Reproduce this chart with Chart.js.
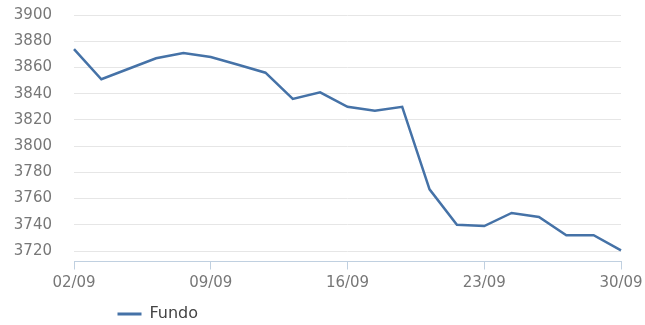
<!DOCTYPE html>
<html lang="pt">
<head>
    <meta charset="UTF-8">
    <title>Fundo</title>
    <script src="https://cdn.jsdelivr.net/npm/chart.js"></script>
    <style>
        body { margin: 0; padding: 0; background: #fff; }
        .chart-box { width: 645px; height: 325px; }
    </style>
</head>
<body>
    <div class="chart-box">
        <canvas id="lineChart"></canvas>
    </div>

    <script>
        // dias úteis de setembro
        let dias = ["02/09", "03/09", "04/09", "05/09", "06/09",
                    "09/09", "10/09", "11/09", "12/09", "13/09",
                    "16/09", "17/09", "18/09", "19/09", "20/09",
                    "23/09", "24/09", "25/09", "26/09", "27/09",
                    "30/09"];
        let fundo = [3874, 3851, 3859, 3867, 3871,
                     3868, 3862, 3856, 3836, 3841,
                     3830, 3827, 3830, 3767, 3740,
                     3739, 3749, 3746, 3732, 3732,
                     3720.5];
        let yTicks = [3720, 3740, 3760, 3780, 3800, 3820, 3840, 3860, 3880, 3900];

        let azul = "#4572A7";
        let eixo = "#C0D0E0";

        // legenda mais à esquerda e um pouco abaixo
        let legendShift = {
            id: "legendShift",
            afterLayout(chart) {
                let lg = chart.legend;
                let w = lg.right - lg.left;
                lg.left = 116;
                lg.right = lg.left + w;
                lg.top += 7;
                lg.bottom += 7;
            }
        };

        let chart = new Chart(document.getElementById("lineChart").getContext("2d"), {
            type: "line",
            data: {
                labels: dias,
                datasets: [{
                    label: "Fundo",
                    data: fundo,
                    borderColor: azul,
                    backgroundColor: azul,
                    borderWidth: 2.5,
                    pointRadius: 0,
                    tension: 0,
                    fill: false
                }]
            },
            options: {
                responsive: true,
                maintainAspectRatio: false,
                animation: false,
                layout: { padding: { top: 15, right: 0, bottom: 0, left: 0 } },
                plugins: {
                    tooltip: { enabled: false },
                    legend: {
                        position: "bottom",
                        align: "start",
                        labels: {
                            boxWidth: 24,
                            boxHeight: 3,
                            padding: 1.5,
                            color: "#444",
                            font: { family: "DejaVu Sans", size: 16 },
                            generateLabels(c) {
                                let items = Chart.defaults.plugins.legend.labels.generateLabels(c);
                                items.forEach(it => { it.lineWidth = 0; });
                                return items;
                            }
                        }
                    }
                },
                scales: {
                    x: {
                        offset: false,
                        grid: { drawOnChartArea: false, drawTicks: true, tickLength: 8, color: eixo },
                        border: { color: eixo, width: 1 },
                        afterBuildTicks: axis => {
                            axis.ticks = axis.ticks.filter(t => t.value % 5 === 0);
                        },
                        afterFit: axis => {
                            axis.paddingLeft = 0;
                            axis.paddingRight = 24;
                        },
                        ticks: {
                            autoSkip: false,
                            maxRotation: 0,
                            padding: 5,
                            color: "#777",
                            font: { family: "DejaVu Sans", size: 15 }
                        }
                    },
                    y: {
                        min: 3712,
                        max: 3900,
                        afterFit: axis => { axis.width = 74; },
                        afterBuildTicks: axis => {
                            axis.ticks = yTicks.map(v => ({ value: v }));
                        },
                        grid: { color: "#e6e6e6", lineWidth: 1, drawTicks: true, tickLength: 22, tickColor: "rgba(0,0,0,0)" },
                        border: { display: false },
                        ticks: {
                            padding: 0,
                            color: "#777",
                            font: { family: "DejaVu Sans", size: 15 },
                            callback: v => String(v)
                        }
                    }
                }
            },
            plugins: [legendShift]
        });
    </script>
</body>
</html>
